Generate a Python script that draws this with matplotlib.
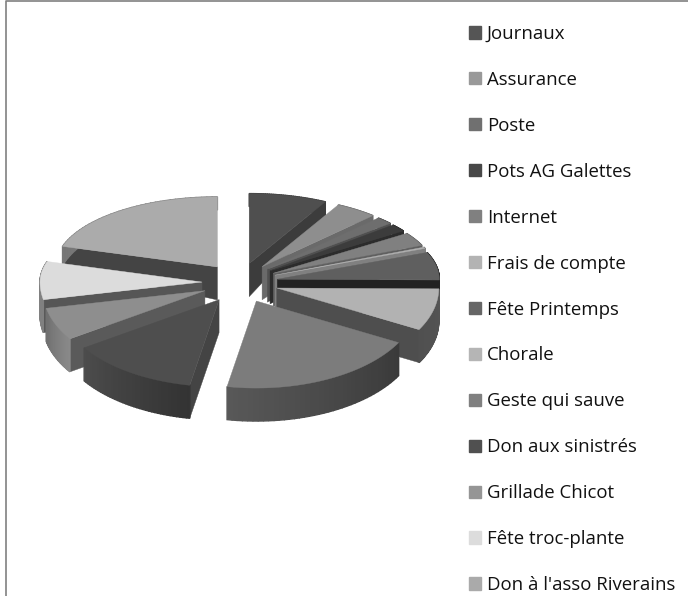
"""Exploded 3D-look pie in greys, drawn by hand since matplotlib has no 3D pie."""
import numpy as np
import matplotlib
matplotlib.use("Agg")
import matplotlib.pyplot as plt
from matplotlib.patches import Polygon, Patch

labels = ["Journaux", "Assurance", "Poste", "Pots AG Galettes", "Internet", "Frais de compte",
          "Fête Printemps", "Chorale", "Geste qui sauve", "Don aux sinistrés", "Grillade Chicot",
          "Fête troc-plante", "Don à l'asso Riverains"]
values = [7.8, 4.2, 1.7, 1.7, 3.1, 0.3, 6.4, 7.8, 20.0, 12.8, 6.1, 8.0, 20.3]

tops = ["#4f4f4f", "#8e8e8e", "#6e6e6e", "#3c3c3c", "#808080", "#b0b0b0", "#5f5f5f",
        "#b2b2b2", "#7c7c7c", "#4e4e4e", "#8e8e8e", "#dcdcdc", "#ababab"]
cuts = ["#3c3c3c", "#6a6a6a", "#505050", "#2c2c2c", "#606060", "#808080", "#222222",
        "#4e4e4e", "#444444", "#444444", "#5a5a5a", "#565656", "#444444"]
rim_a = ["#3c3c3c", "#6a6a6a", "#505050", "#2c2c2c", "#606060", "#808080", "#222222",
         "#555555", "#3a3a3a", "#333333", "#8a8a8a", "#808080", "#777777"]
rim_b = ["#3c3c3c", "#6a6a6a", "#505050", "#2c2c2c", "#606060", "#808080", "#222222",
         "#505050", "#585858", "#4c4c4c", "#707070", "#808080", "#777777"]
swatches = ["#555555", "#999999", "#707070", "#484848", "#808080", "#b3b3b3", "#666666",
            "#b5b5b5", "#808080", "#505050", "#959595", "#dcdcdc", "#aaaaaa"]

CX, CY = 240, 283
RX, RY_BACK, RY_FRONT = 162, 70, 87
EXP_X, EXP_Y = 38, 20
DEPTH = 33


def project(theta, r, apex):
    ry = np.where(np.cos(theta) > 0, RY_BACK, RY_FRONT)
    return np.column_stack([apex[0] + r * RX * np.sin(theta), apex[1] - r * ry * np.cos(theta)])


def depth(theta, r=1.0):
    # back of the pie looks thinner
    return DEPTH - 20 * r * np.clip(np.cos(theta), 0, 1) ** 0.3


def shifted(pts, theta, r=1.0):
    out = pts.copy()
    out[:, 1] += depth(theta, r)
    return out


def wall_visible(apex, rim_pt, inner_pt):
    e = rim_pt - apex
    side = lambda p: e[0] * p[1] - e[1] * p[0]
    return side(inner_pt - apex) * side(np.array([0.0, 1.0])) < 0


fig = plt.figure(figsize=(6.88, 5.96), dpi=100)
ax = fig.add_axes([0, 0, 1, 1])
ax.set_xlim(0, 688)
ax.set_ylim(596, 0)
ax.axis("off")

ax.plot([6, 6, 688], [596, 1, 1], color="#808080", lw=1.2, solid_capstyle="butt")

edges = np.radians(np.cumsum([0] + values) / sum(values) * 360)
slices = []
for i in range(len(values)):
    mid = (edges[i] + edges[i + 1]) / 2
    apex = np.array([CX + EXP_X * np.sin(mid), CY - EXP_Y * np.cos(mid)])
    slices.append((apex[1], i, mid, apex))

for _, i, mid, apex in sorted(slices, key=lambda s: s[0]):
    th = np.linspace(edges[i], edges[i + 1], 40)
    arc = project(th, 1.0, apex)
    inner = arc[len(arc) // 2]
    # cut faces
    for k, t in ((0, th[0]), (-1, th[-1])):
        if wall_visible(apex, arc[k], inner):
            d1 = float(depth(t))
            quad = [apex, arc[k], arc[k] + [0, d1], apex + [0, DEPTH]]
            ax.add_patch(Polygon(quad, fc=cuts[i], ec=cuts[i], lw=0.3))
    # outer wall, shaded along the rim
    ca = np.array(matplotlib.colors.to_rgb(rim_a[i]))
    cb = np.array(matplotlib.colors.to_rgb(rim_b[i]))
    low = shifted(arc, th)
    for j in range(len(th) - 1):
        c = ca + (cb - ca) * j / (len(th) - 2)
        quad = [arc[j], arc[j + 1], low[j + 1], low[j]]
        ax.add_patch(Polygon(quad, fc=c, ec=c, lw=1.0))
    ax.add_patch(Polygon(np.vstack([apex, arc]), fc=tops[i], ec=tops[i], lw=0.3))

handles = [Patch(fc=c, ec=c) for c in swatches]
leg = ax.legend(handles, labels, loc="upper left", bbox_to_anchor=(469, 25),
                bbox_transform=ax.transData,
                frameon=False, handlelength=0.63, handleheight=0.63, handletextpad=0.32,
                labelspacing=1.50, borderpad=0, borderaxespad=0,
                prop={"family": "Open Sans", "size": 13.4})
for t in leg.get_texts():
    t.set_color("#111111")

fig.savefig("out.png", dpi=100)
